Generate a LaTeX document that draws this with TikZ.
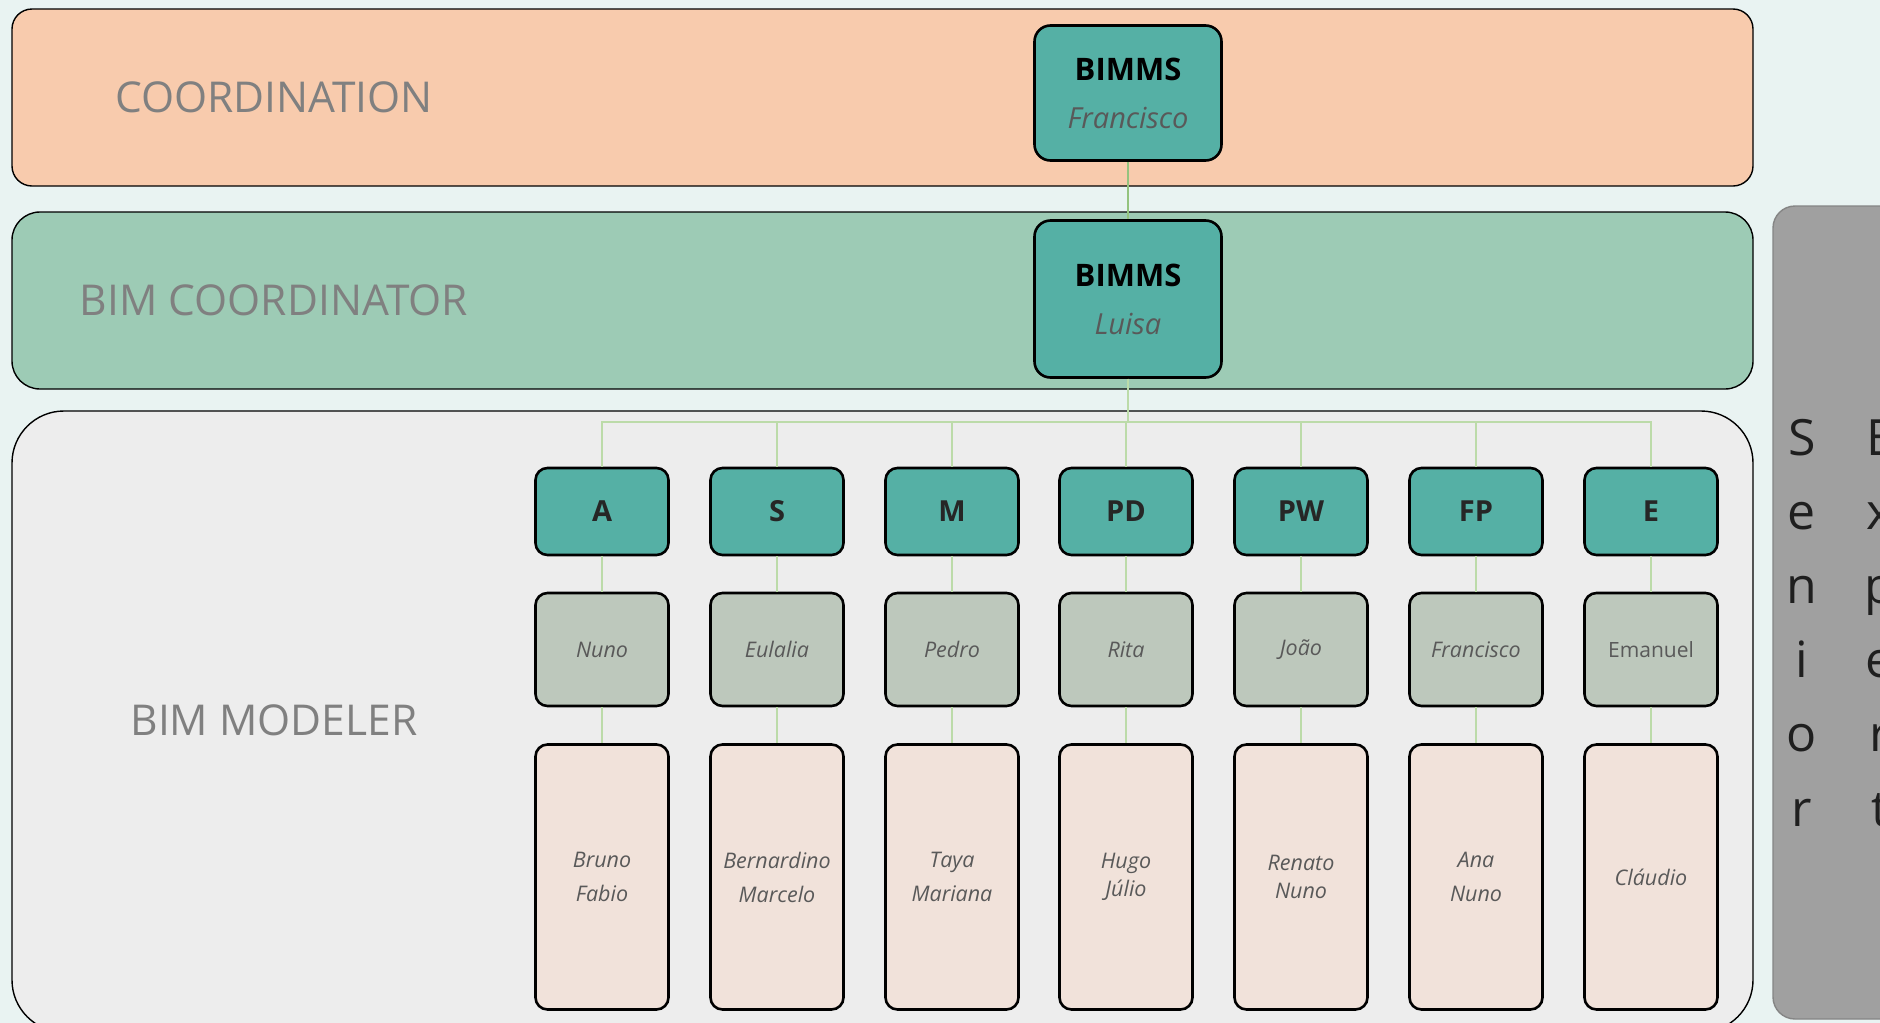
\documentclass[tikz,border=0pt]{standalone}
\usepackage{fontspec}
\setmainfont{Open Sans}

\definecolor{pagebg}{HTML}{E9F3F2}
\definecolor{coordfill}{HTML}{F8CBAD}
\definecolor{coordinatorfill}{HTML}{9DCBB5}
\definecolor{modelerfill}{HTML}{EDEDED}
\definecolor{roleteal}{HTML}{55B0A5}
\definecolor{leadfill}{HTML}{BDC8BC}
\definecolor{teamfill}{HTML}{F1E2DA}
\definecolor{panelgrey}{HTML}{A0A0A0}
\definecolor{paneledge}{HTML}{858585}
\definecolor{labelgrey}{HTML}{808080}
\definecolor{namegrey}{HTML}{595959}
\definecolor{rolegrey}{HTML}{262626}
\definecolor{uplink}{HTML}{94C37E}
\definecolor{downlink}{HTML}{BCDBA9}

\tikzset{
  band/.style={draw=black, line width=1.4pt},
  bandlabel/.style={anchor=base, text=labelgrey, inner sep=0pt,
    font=\fontsize{42.5}{50}\selectfont},
  boxbase/.style={draw=black, line width=2.6pt, inner sep=0pt, align=center},
  bimmsbox/.style={boxbase, fill=roleteal, rounded corners=16pt,
    minimum width=187pt, font=\fontsize{31}{48}\selectfont},
  rolebox/.style={boxbase, fill=roleteal, rounded corners=12pt,
    minimum width=133pt, minimum height=87pt, text=rolegrey,
    font=\fontsize{29}{34}\selectfont\bfseries},
  leadbox/.style={boxbase, fill=leadfill, rounded corners=12pt,
    minimum width=133pt, minimum height=113pt, text=namegrey,
    font=\fontsize{21.5}{26}\selectfont\itshape},
  teambox/.style={boxbase, fill=teamfill, rounded corners=12pt,
    minimum width=133pt, minimum height=265pt, text=namegrey,
    font=\fontsize{21.5}{34}\selectfont\itshape},
  tightteam/.style={font=\fontsize{21.5}{28}\selectfont\itshape},
  upperlink/.style={draw=uplink, line width=2.8pt},
  lowerlink/.style={draw=downlink, line width=2.8pt},
  panelletter/.style={anchor=base, inner sep=0pt, text=black!88,
    font=\fontsize{50}{60}\selectfont}
}

\begin{document}
\begin{tikzpicture}[x=1pt, y=-1pt]
\useasboundingbox (0,0) rectangle (1880,1023);
\fill[pagebg] (0,0) rectangle (1880,1023);

\begin{scope}
\clip (0,0) rectangle (1880,1023);

% level bands
\draw[band, fill=coordfill, rounded corners=20pt] (12,9) rectangle (1753,186);
\draw[band, fill=coordinatorfill, rounded corners=28pt] (12,212) rectangle (1753,389);
\draw[band, fill=modelerfill, rounded corners=52pt] (12,411) rectangle (1753,1032);

% side panel
\draw[paneledge, line width=1.4pt, fill=panelgrey, rounded corners=22pt]
  (1773,206) rectangle (1920,1019);
\foreach \ch [count=\i from 0] in {S,e,n,i,o,r}
  \node[panelletter] (senior\i) at (1802,{455+74.2*\i}) {\ch};
\foreach \ch [count=\i from 0] in {E,x,p,e,r,t}
  \node[panelletter] (expert\i) at (1880,{455+74.2*\i}) {\ch};
\end{scope}

% level names
\node[bandlabel] (lcoord) at (274,112) {COORDINATION};
\node[bandlabel] (lcoordinator) at (274,315) {BIM COORDINATOR};
\node[bandlabel] (lmodeler) at (274,735) {BIM MODELER};

% management
\node[bimmsbox, minimum height=135pt] (b1) at (1128,93)
  {\bfseries BIMMS\\\itshape\fontsize{29}{48}\selectfont\color{namegrey}Francisco};
\node[bimmsbox, minimum height=157pt] (b2) at (1128,299)
  {\bfseries BIMMS\\\itshape\fontsize{29}{48}\selectfont\color{namegrey}Luisa};

% disciplines
\node[rolebox] (ca)  at (602,511.5)  {A};
\node[rolebox] (cs)  at (777,511.5)  {S};
\node[rolebox] (cm)  at (952,511.5)  {M};
\node[rolebox] (cpd) at (1126,511.5) {PD};
\node[rolebox] (cpw) at (1301,511.5) {PW};
\node[rolebox] (cfp) at (1476,511.5) {FP};
\node[rolebox] (ce)  at (1651,511.5) {E};

% discipline leads
\node[leadbox] (ca-lead)  at (602,649.5)  {Nuno};
\node[leadbox] (cs-lead)  at (777,649.5)  {Eulalia};
\node[leadbox] (cm-lead)  at (952,649.5)  {Pedro};
\node[leadbox] (cpd-lead) at (1126,649.5) {Rita};
\node[leadbox] (cpw-lead) at (1301,649.5) {João};
\node[leadbox] (cfp-lead) at (1476,649.5) {Francisco};
\node[leadbox, font=\fontsize{21}{26}\selectfont\upshape] (ce-lead) at (1651,649.5) {Emanuel};

% modelers
\node[teambox] (ca-team)  at (602,877)  {Bruno\\Fabio};
\node[teambox] (cs-team)  at (777,877)  {Bernardino\\Marcelo};
\node[teambox] (cm-team)  at (952,877)  {Taya\\Mariana};
\node[teambox, tightteam] (cpd-team) at (1126,877) {Hugo\\Júlio};
\node[teambox, tightteam] (cpw-team) at (1301,877) {Renato\\Nuno};
\node[teambox] (cfp-team) at (1476,877) {Ana\\Nuno};
\node[teambox] (ce-team)  at (1651,877) {Cláudio};

% connectors
\draw[upperlink] (b1.south) -- (b2.north);
\coordinate (bus) at (1128,422);
\foreach \c in {ca,cs,cm,cpd,cpw,cfp,ce}{
  \draw[lowerlink] (b2.south) -- (bus) -| (\c.north);
  \draw[lowerlink] (\c.south) -- (\c-lead.north);
  \draw[lowerlink] (\c-lead.south) -- (\c-team.north);
}
\end{tikzpicture}
\end{document}
